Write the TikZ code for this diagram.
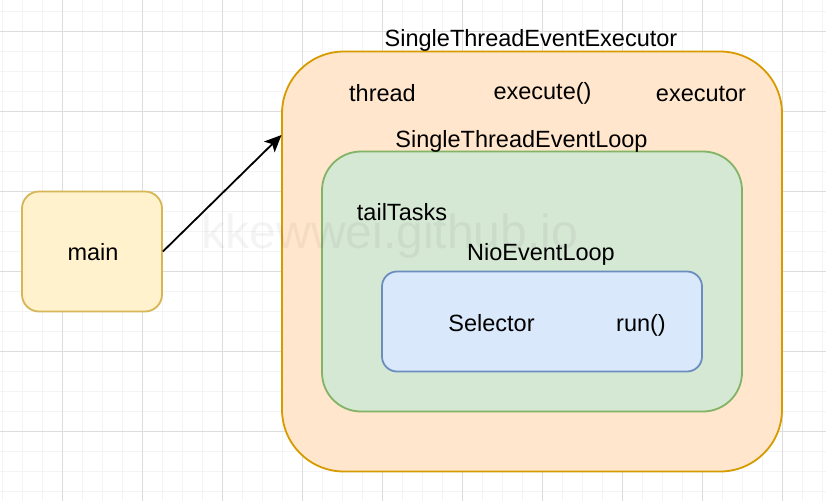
\documentclass[tikz,border=0pt]{standalone}
\usepackage{fontspec}
\setmainfont{Liberation Sans}
\usetikzlibrary{arrows.meta}
\definecolor{gridminor}{HTML}{F4F4F4}
\definecolor{gridmajor}{HTML}{DDDDDD}
\definecolor{mainfill}{HTML}{FFF2CC}
\definecolor{mainline}{HTML}{D6B656}
\definecolor{orfill}{HTML}{FFE6CC}
\definecolor{orline}{HTML}{D79B00}
\definecolor{grfill}{HTML}{D5E8D4}
\definecolor{grline}{HTML}{82B366}
\definecolor{blfill}{HTML}{DAE8FC}
\definecolor{blline}{HTML}{6C8EBF}
\tikzset{
  boxstyle/.style={rectangle, inner sep=0pt, line width=1.8pt},
  lbl/.style={anchor=base, inner sep=0pt, font=\fontsize{23.5}{28}\selectfont},
  conn/.style={line width=1.8pt, -{Stealth[length=17pt,width=15pt,inset=4pt]}}
}
\begin{document}
\begin{tikzpicture}[x=1pt,y=-1pt]
\useasboundingbox (0,0) rectangle (826,501);
\fill[white] (0,0) rectangle (826,501);
% grid
\foreach \x in {2,22,...,822} \draw[gridminor, line width=1pt] (\x,0) -- (\x,501);
\foreach \y in {11.5,31.5,...,500} \draw[gridminor, line width=1pt] (0,\y) -- (826,\y);
\foreach \x in {62,142,...,822} \draw[gridmajor, line width=1pt] (\x,0) -- (\x,501);
\foreach \y in {31.5,111.5,...,500} \draw[gridmajor, line width=1pt] (0,\y) -- (826,\y);
% boxes
\node[boxstyle, draw=mainline, fill=mainfill, rounded corners=17pt, minimum width=140pt, minimum height=120pt] (main) at (92,251.5) {};
\node[boxstyle, draw=orline, fill=orfill, rounded corners=62pt, minimum width=500pt, minimum height=420pt] (executor) at (532,261.5) {};
\node[boxstyle, draw=grline, fill=grfill, rounded corners=39pt, minimum width=420pt, minimum height=260pt] (loop) at (532,281.5) {};
\node[boxstyle, draw=blline, fill=blfill, rounded corners=15pt, minimum width=320pt, minimum height=100pt] (nio) at (542,321.5) {};
% labels
\node[lbl] (tmain) at (93,260) {main};
\node[lbl] (tste) at (531,46.7) {SingleThreadEventExecutor};
\node[lbl] (tthread) at (382.5,101) {thread};
\node[lbl] (texec) at (542.5,99) {execute()};
\node[lbl] (texecutor) at (701,101) {executor};
\node[lbl] (tstel) at (521.5,147.5) {SingleThreadEventLoop};
\node[lbl] (ttail) at (402,220) {tailTasks};
\node[lbl] (tnio) at (541,260) {NioEventLoop};
\node[lbl] (tsel) at (491.5,331) {Selector};
\node[lbl] (trun) at (641,331) {run()};
% watermark
\node[anchor=base, inner sep=0pt, font=\fontsize{48}{56}\selectfont, text=black, text opacity=0.045] (wm) at (390,248) {kkewwei.github.io};
% connector
\coordinate (tip) at (281.5,135);
\draw[conn] (main.east) -- (tip);
\end{tikzpicture}
\end{document}
